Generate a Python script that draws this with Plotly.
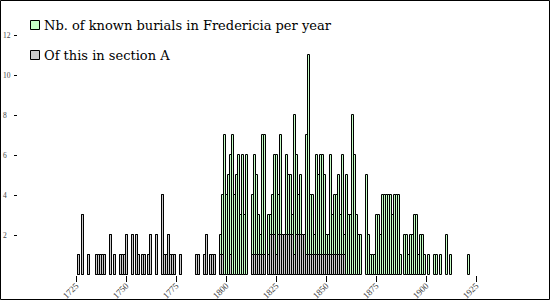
import plotly.graph_objects as go

# ---- data ----
# Years with at least one known burial, total per year
total_years = [
    1726, 1728, 1731, 1735, 1736, 1737, 1738, 1739, 1742, 1744, 1747, 1748, 1749, 1750,
    1753, 1755, 1756, 1758, 1759, 1761, 1762, 1765, 1768, 1769, 1770, 1771, 1772, 1773,
    1774, 1777, 1785, 1786, 1789, 1790, 1792, 1793, 1794,
    1797, 1798, 1799, 1800, 1801, 1802, 1803, 1804, 1805, 1806, 1807, 1808, 1809, 1810,
    1813, 1814, 1815, 1816, 1817, 1818, 1819, 1821, 1822, 1823, 1824, 1825, 1826,
    1827, 1828, 1829, 1830, 1831, 1832, 1833, 1834, 1835, 1836, 1837, 1838, 1839, 1840,
    1841, 1842, 1843, 1844, 1845, 1846, 1847, 1848, 1849, 1850, 1851, 1852, 1853, 1854,
    1855, 1856, 1857, 1858, 1859, 1860, 1861, 1862, 1863, 1864, 1865, 1866, 1867,
    1870, 1871, 1872, 1873, 1874, 1875, 1876, 1877, 1878, 1879, 1880, 1881, 1882, 1883,
    1884, 1885, 1886, 1887, 1889, 1890, 1891, 1892, 1893, 1894, 1895, 1896, 1897, 1898,
    1899, 1901, 1904, 1905, 1907, 1910, 1912, 1921,
]
total_counts = [
    1, 3, 1, 1, 1, 1, 1, 1, 2, 1, 1, 1, 1, 2,
    2, 2, 1, 1, 1, 1, 2, 2, 4, 1, 1, 2, 1, 1,
    1, 1, 1, 1, 1, 2, 1, 1, 1,
    2, 4, 7, 4, 5, 6, 7, 4, 5, 6, 3, 6, 3, 6,
    4, 6, 5, 3, 2, 7, 7, 3, 3, 4, 6, 6, 4,
    7, 2, 2, 6, 5, 5, 3, 8, 6, 4, 5, 2, 2, 7,
    11, 4, 4, 2, 6, 5, 6, 6, 5, 2, 2, 6, 3, 4,
    4, 5, 3, 6, 2, 5, 3, 3, 8, 6, 3, 2, 2,
    5, 2, 1, 1, 1, 3, 3, 2, 4, 4, 4, 4, 4, 3,
    4, 4, 4, 1, 2, 2, 1, 2, 2, 3, 3, 1, 2, 2,
    1, 1, 1, 1, 1, 2, 1, 1,
]

# Years with burials in section A, and their counts
a_years = [
    1726, 1728, 1731, 1735, 1736, 1737, 1738, 1739, 1742, 1744, 1747, 1748, 1749, 1750,
    1753, 1755, 1756, 1758, 1759, 1761, 1762, 1765, 1768, 1769, 1770, 1771, 1772, 1773,
    1774, 1777, 1785, 1786, 1789, 1790, 1792, 1793, 1794,
    1797, 1798, 1802, 1813, 1814, 1815, 1816, 1817, 1818, 1819, 1821, 1822, 1823, 1824,
    1825, 1826, 1827, 1828, 1829, 1830, 1831, 1832, 1833, 1834, 1835, 1836, 1837, 1838,
    1839, 1840, 1841, 1842, 1843, 1844, 1845, 1846, 1847, 1848, 1849, 1850, 1851, 1852,
    1853, 1854, 1855, 1856, 1857, 1858, 1859,
]
a_counts = [
    1, 3, 1, 1, 1, 1, 1, 1, 2, 1, 1, 1, 1, 2,
    2, 2, 1, 1, 1, 1, 2, 2, 4, 1, 1, 2, 1, 1,
    1, 1, 1, 1, 1, 2, 1, 1, 1,
    1, 1, 1, 1, 1, 1, 1, 1, 1, 1, 1, 2, 2, 2,
    1, 2, 2, 2, 2, 2, 2, 2, 2, 1, 2, 2, 2, 2,
    2, 1, 1, 1, 1, 1, 1, 1, 1, 1, 1, 1, 1, 1,
    1, 1, 1, 1, 1, 1, 1,
]

x_tick_years = [1725, 1750, 1775, 1800, 1825, 1850, 1875, 1900, 1925]
y_tick_values = [2, 4, 6, 8, 10, 12]

label_total = "Nb. of known burials in Fredericia per year"
label_a = "Of this in section A"
color_total = "#c8ffc8"
color_a = "#cccccc"

# ---- figure ----
W, H = 550, 300
ML, MR, MT, MB = 18, 12, 5, 25
PW, PH = W - ML - MR, H - MT - MB

fig = go.Figure()
fig.add_trace(go.Bar(
    x=[y + 0.5 for y in total_years], y=total_counts, width=1,
    name=label_total, opacity=1, showlegend=False,
    marker=dict(color=color_total, line=dict(color="black", width=1)),
))
fig.add_trace(go.Bar(
    x=[y + 0.5 for y in a_years], y=a_counts, width=1,
    name=label_a, opacity=1, showlegend=False,
    marker=dict(color=color_a, line=dict(color="black", width=1)),
))

x0 = 1725 - (76 - ML) / 2.0
x1 = x0 + PW / 2.0
ymax = PH / 20.0


def px(xp):
    return (xp - ML) / PW


def py(yp):
    return (H - MB - yp) / PH


shapes = [dict(
    type="rect", xref="paper", yref="paper",
    x0=px(0.5), x1=px(W - 0.5), y0=py(H - 0.5), y1=py(0.5),
    line=dict(color="black", width=1), fillcolor="rgba(0,0,0,0)", layer="above",
)]
annotations = []
# manual legend (square + text), matching the reference placement
for (top, col, txt) in [(20.5, color_total, label_total), (50.5, color_a, label_a)]:
    shapes.append(dict(
        type="rect", xref="paper", yref="paper",
        x0=px(30.5), x1=px(39.5), y0=py(top + 9), y1=py(top),
        line=dict(color="black", width=1), fillcolor=col, layer="above",
    ))
    annotations.append(dict(
        xref="paper", yref="paper", x=px(42), y=py(top + 4.5),
        xanchor="left", yanchor="middle", text=txt, showarrow=False,
        font=dict(family="DejaVu Serif", size=13, color="black"),
    ))

pad = "\u2007"
fig.update_layout(
    width=W, height=H,
    margin=dict(l=ML, r=MR, t=MT, b=MB, pad=0, autoexpand=False),
    paper_bgcolor="white", plot_bgcolor="white",
    barmode="overlay", bargap=0, bargroupgap=0,
    font=dict(family="DejaVu Serif", size=12, color="black"),
    showlegend=False,
    xaxis=dict(
        range=[x0, x1], showgrid=False, zeroline=False, showline=False, automargin=False,
        tickmode="array", tickvals=x_tick_years, ticktext=[str(v) for v in x_tick_years],
        ticks="outside", ticklen=6, tickwidth=1, tickcolor="black", tickangle=-45,
        ticklabelstandoff=-5,
        tickfont=dict(family="Liberation Serif", size=9, color="#444444"),
    ),
    yaxis=dict(
        range=[0, ymax], showgrid=False, zeroline=False, showline=False, automargin=False,
        tickmode="array", tickvals=y_tick_values,
        ticktext=[str(v) if v >= 10 else str(v) + pad for v in y_tick_values],
        ticks="outside", ticklen=3, tickwidth=1, tickcolor="black", ticklabelstandoff=2,
        tickfont=dict(family="Liberation Serif", size=7.5, color="#444444"),
    ),
    shapes=shapes,
    annotations=annotations,
)

fig.write_html("out.html")
